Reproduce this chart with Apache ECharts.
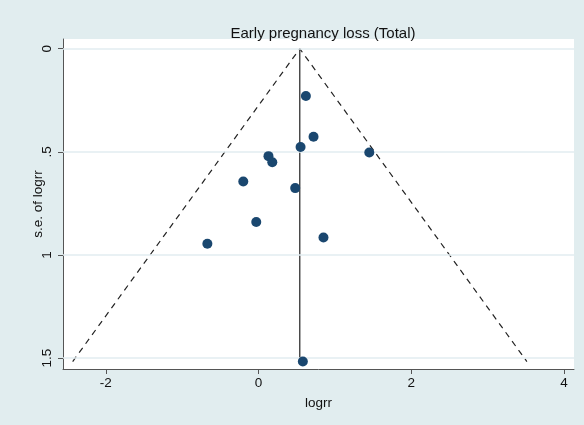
<!DOCTYPE html>
<html>
<head>
<meta charset="utf-8">
<script src="https://cdn.jsdelivr.net/npm/echarts@6/dist/echarts.min.js"></script>
<style>
  html, body { margin: 0; padding: 0; background: #e1edef; }
  #chart { width: 584px; height: 425px; }
</style>
</head>
<body>
<div id="chart"></div>
<script>
// Study estimates: log risk ratio and its standard error
const logrr = [0.62, 0.72, 0.55, 1.45, 0.13, 0.18, -0.20, 0.48, -0.03, 0.85, -0.67, 0.58];
const seLogrr = [0.229, 0.427, 0.477, 0.503, 0.521, 0.551, 0.644, 0.676, 0.840, 0.915, 0.946, 1.517];

// Pooled (fixed-effect) estimate of logrr
const pooled = 0.54;

const xTicks = [-2, 0, 2, 4];
const yTicks = [0, 0.5, 1, 1.5];
const yTickLabels = ['0', '.5', '1', '1.5'];

const maxSe = Math.max(...seLogrr);
const z = 1.96;

const points = logrr.map((v, i) => [v, seLogrr[i]]);
const funnel = [
  [pooled - z * maxSe, maxSe],
  [pooled, 0],
  [pooled + z * maxSe, maxSe]
];
const centre = [[pooled, 0], [pooled, maxSe]];

const font = '"Liberation Sans", Arial, Helvetica, sans-serif';
const chart = echarts.init(document.getElementById('chart'), null, { renderer: 'canvas' });

chart.setOption({
  backgroundColor: '#e1edef',
  animation: false,
  title: {
    text: 'Early pregnancy loss (Total)',
    left: 318, top: 21, textAlign: 'center',
    textStyle: { fontFamily: font, fontSize: 15, fontWeight: 'normal', color: '#111' }
  },
  grid: { left: 63, top: 39, right: 10, bottom: 56, show: true, backgroundColor: '#ffffff', borderWidth: 0 },
  xAxis: {
    type: 'value', min: -2.56, max: 4.13,
    name: 'logrr', nameLocation: 'middle', nameGap: 27,
    nameTextStyle: { fontFamily: font, fontSize: 13.5, color: '#111' },
    axisLine: { show: true, onZero: false, lineStyle: { color: '#555', width: 1 } },
    axisTick: { show: true, length: 5, customValues: xTicks, lineStyle: { color: '#555' } },
    axisLabel: { customValues: xTicks, fontFamily: font, fontSize: 13.5, color: '#111', margin: 7,
      formatter: v => String(v) },
    splitLine: { show: false }
  },
  yAxis: {
    type: 'value', min: -0.047, max: 1.553, inverse: true,
    name: 's.e. of logrr', nameLocation: 'middle', nameGap: 18, nameRotate: 90,
    nameMoveOverlap: false,
    nameTextStyle: { fontFamily: font, fontSize: 13.5, color: '#111' },
    axisLine: { show: true, onZero: false, lineStyle: { color: '#555', width: 1 } },
    axisTick: { show: true, length: 5, customValues: yTicks, lineStyle: { color: '#555' } },
    axisLabel: { customValues: yTicks, rotate: 90, fontFamily: font, fontSize: 13.5, color: '#111', margin: 9,
      formatter: v => yTickLabels[yTicks.indexOf(v)] ?? '' },
    splitLine: { show: false }
  },
  series: [
    {
      // horizontal grid lines at the y ticks
      type: 'line', data: [], silent: true,
      markLine: {
        silent: true, symbol: 'none', label: { show: false },
        lineStyle: { color: '#e2ecf0', width: 1.5, type: 'solid' },
        data: yTicks.map(v => ({ yAxis: v }))
      }
    },
    {
      type: 'line', data: funnel, symbol: 'none', silent: true,
      lineStyle: { color: '#222', width: 1.2, type: [6, 5] }
    },
    {
      type: 'line', data: centre, symbol: 'none', silent: true,
      lineStyle: { color: '#222', width: 1.2 }
    },
    {
      type: 'scatter', data: points, symbol: 'circle', symbolSize: 10,
      itemStyle: { color: '#1a476f', opacity: 1 }, z: 5
    }
  ]
});
</script>
</body>
</html>
